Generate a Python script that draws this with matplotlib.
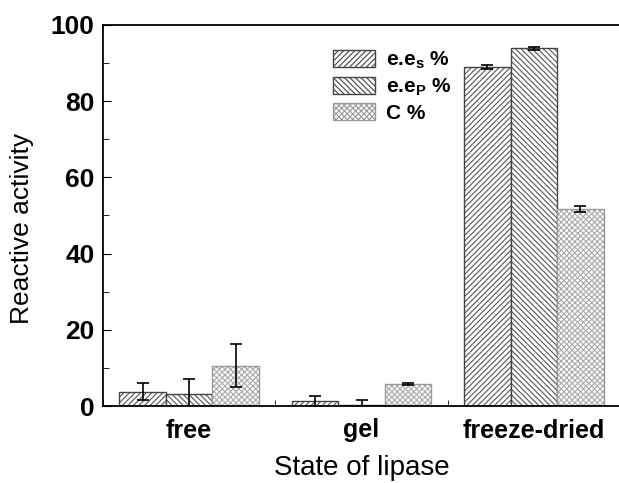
import numpy as np
import matplotlib.pyplot as plt
import matplotlib.patches as mpatches
from matplotlib.ticker import MultipleLocator

# datos
estados = ['free', 'gel', 'freeze-dried']
ee_s = [3.8, 1.3, 88.9]
ee_s_err = [2.2, 1.4, 0.5]
ee_p = [3.1, 0.3, 93.9]
ee_p_err = [4.0, 1.3, 0.4]
conv = [10.6, 5.8, 51.8]
conv_err = [5.7, 0.3, 0.8]
etiquetas = ['e.e$_\\mathregular{s}$ %', 'e.e$_\\mathregular{P}$ %', 'C %']

plt.rcParams['font.family'] = ['Liberation Sans', 'DejaVu Sans']
plt.rcParams['hatch.linewidth'] = 0.8

fig = plt.figure(figsize=(6.19, 4.83), dpi=100)
ax = fig.add_axes([103 / 619, 1 - 406 / 483, 517 / 619, 381 / 483])

x = np.arange(1, len(estados) + 1)
w = 0.27
# (valores, errores, hatch, color del hatch, color del borde)
series = [(ee_s, ee_s_err, '//////', '#555555', '#444444'),
          (ee_p, ee_p_err, '\\\\\\\\\\\\', '#555555', '#444444'),
          (conv, conv_err, 'xxxxxx', '#aaaaaa', '#999999')]
handles = []
for i, (vals, errs, hatch, col, borde) in enumerate(series):
    pos = x + (i - 1) * w
    ax.bar(pos, vals, w, color='white', edgecolor=col, hatch=hatch, lw=0)
    ax.bar(pos, vals, w, color='none', edgecolor=borde, lw=1.0)
    ax.errorbar(pos, vals, yerr=errs, fmt='none', ecolor='black', elinewidth=1.2,
                capsize=4, capthick=1.2)
    handles.append(mpatches.Patch(facecolor='white', edgecolor=borde, hatch=hatch,
                                  lw=1.0, label=etiquetas[i]))

ax.set_xlim(0.5, 3.5)
ax.set_ylim(0, 100)
ax.set_xticks(x)
ax.set_xticklabels(estados, fontsize=18, fontweight='bold')
ax.xaxis.set_minor_locator(MultipleLocator(1.0, offset=0.5))
ax.yaxis.set_major_locator(MultipleLocator(20))
ax.yaxis.set_minor_locator(MultipleLocator(10))
ax.tick_params(axis='x', which='major', length=0, pad=9)
ax.tick_params(axis='x', which='minor', direction='in', length=4)
ax.tick_params(axis='y', which='both', direction='in', labelsize=19, pad=6)
ax.tick_params(axis='y', which='major', length=6)
ax.tick_params(axis='y', which='minor', length=4)
for lab in ax.get_yticklabels():
    lab.set_fontweight('bold')
ax.spines['right'].set_visible(False)
for s in ['left', 'top', 'bottom']:
    ax.spines[s].set_linewidth(1.3)

ax.set_ylabel('Reactive activity', fontsize=19)
ax.yaxis.set_label_coords(-0.133, 0.465)
ax.set_xlabel('State of lipase', fontsize=20, labelpad=9)

ax.legend(handles=handles, loc='upper left', bbox_to_anchor=(0.445, 0.935), frameon=False,
          prop={'weight': 'bold', 'size': 15}, handlelength=2.0, handleheight=0.86,
          labelspacing=0.25, handletextpad=0.55, borderpad=0, borderaxespad=0)

plt.savefig('out.png', dpi=100)
